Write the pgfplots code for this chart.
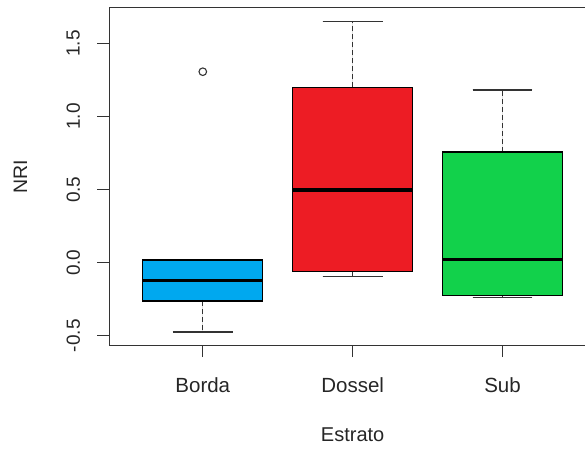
\documentclass[border=0pt]{standalone}
\usepackage{pgfplots}
\pgfplotsset{compat=1.18}
\usepgfplotslibrary{statistics}
\usepackage{fontspec}
\setmainfont{Liberation Sans}
\definecolor{cBorda}{HTML}{00A8EF}
\definecolor{cDossel}{HTML}{ED1C24}
\definecolor{cSub}{HTML}{12D14B}
\definecolor{axcol}{HTML}{333333}
\begin{document}
\begin{tikzpicture}
\useasboundingbox (-109.3bp,-107bp) rectangle (475.7bp,345bp);
\begin{axis}[
  at={(0,0)}, anchor=south west,
  scale only axis, width=486.7bp, height=337bp,
  xmin=0.376, xmax=3.624, ymin=-0.563, ymax=1.743,
  xtick={1,2,3}, xticklabels={Borda,Dossel,Sub},
  ytick={-0.5,0,0.5,1,1.5},
  yticklabels={-0.5,0.0,0.5,1.0,1.5},
  tick pos=left, tick align=outside, major tick length=12bp,
  axis line style={line width=1bp, axcol},
  major tick style={line width=1bp, axcol},
  xticklabel style={font=\fontsize{20.5bp}{24bp}\selectfont, text=black!85, anchor=center, yshift=-27.7bp},
  yticklabel style={font=\fontsize{19bp}{23bp}\selectfont, text=black!85, anchor=center, xshift=-24bp, rotate=90},
  xlabel={Estrato}, ylabel={NRI},
  every axis x label/.style={at={(axis description cs:0.5,0)}, anchor=center, yshift=-90bp,
    font=\fontsize{20bp}{24bp}\selectfont, text=black!85},
  every axis y label/.style={at={(axis description cs:0,0.5)}, anchor=center, xshift=-89bp, rotate=90,
    font=\fontsize{19.5bp}{24bp}\selectfont, text=black!85},
  boxplot/draw direction=y,
  boxplot/box extend=0.8,
  boxplot/whisker extend=0.4,
  boxplot/every median/.style={line width=3.2bp, draw=black},
  boxplot/every box/.style={draw=black, line width=1.2bp},
  boxplot/draw/lower whisker/.code={
    \draw[axcol, line width=1.1bp, dash pattern=on 5bp off 3bp]
      (boxplot box cs:\pgfplotsboxplotvalue{lower quartile},0.5) --
      (boxplot box cs:\pgfplotsboxplotvalue{lower whisker},0.5);
    \draw[axcol, line width=1.1bp]
      (boxplot whisker cs:\pgfplotsboxplotvalue{lower whisker},0) --
      (boxplot whisker cs:\pgfplotsboxplotvalue{lower whisker},1);
  },
  boxplot/draw/upper whisker/.code={
    \draw[axcol, line width=1.1bp, dash pattern=on 5bp off 3bp]
      (boxplot box cs:\pgfplotsboxplotvalue{upper quartile},0.5) --
      (boxplot box cs:\pgfplotsboxplotvalue{upper whisker},0.5);
    \draw[axcol, line width=1.1bp]
      (boxplot whisker cs:\pgfplotsboxplotvalue{upper whisker},0) --
      (boxplot whisker cs:\pgfplotsboxplotvalue{upper whisker},1);
  },
]
\addplot[boxplot prepared={draw position=1, lower whisker=-0.474, lower quartile=-0.262,
  median=-0.123, upper quartile=0.018, upper whisker=0.018},
  fill=cBorda, draw=black, mark=o, mark size=3.8bp,
  mark options={draw=axcol, line width=1.1bp, fill=none, solid}]
  coordinates {(0,1.307)};
\addplot[boxplot prepared={draw position=2, lower whisker=-0.097, lower quartile=-0.061,
  median=0.497, upper quartile=1.200, upper whisker=1.650},
  fill=cDossel, draw=black]
  coordinates {};
\addplot[boxplot prepared={draw position=3, lower whisker=-0.240, lower quartile=-0.223,
  median=0.023, upper quartile=0.758, upper whisker=1.182},
  fill=cSub, draw=black]
  coordinates {};
\end{axis}
\end{tikzpicture}
\end{document}
